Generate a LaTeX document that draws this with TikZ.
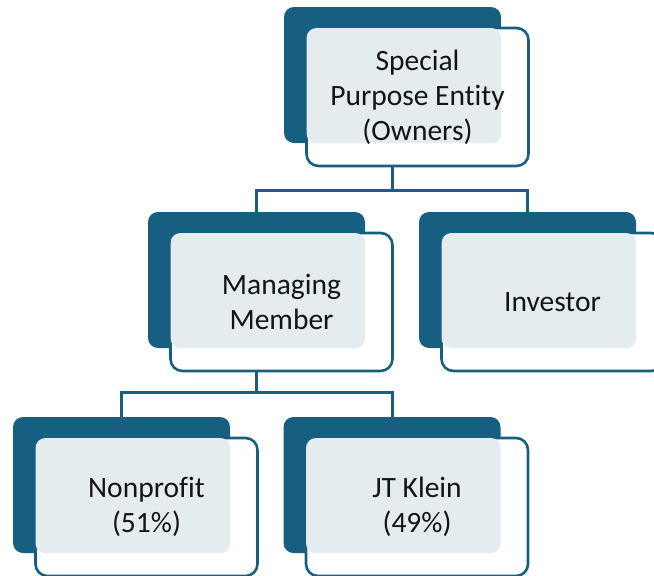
\documentclass[tikz,border=0pt]{standalone}
\usepackage{fontspec}
\setmainfont{Carlito}[Ligatures=NoCommon]
\usetikzlibrary{positioning}
\definecolor{orgteal}{RGB}{23,95,128}
\definecolor{orgpale}{RGB}{229,236,240}

\begin{document}
\begin{tikzpicture} [x=1pt, y=-1pt, node distance=271pt,
  back/.style={rectangle, fill=orgteal, rounded corners=10pt, minimum width=217pt, minimum height=136pt, inner sep=0pt},
  frame/.style={rectangle, draw=orgteal, line width=2.6pt, fill=white, rounded corners=12pt, minimum width=222pt, minimum height=138pt, inner sep=0pt},
  label/.style={align=center, text=black!92, font=\fontsize{29.5}{35}\selectfont},
  link/.style={draw=orgteal, line width=3pt}]
  \useasboundingbox (0,0) rectangle (654,576);
  %% back plates
  \node [back] (top-d) at (392.5,75) {};
  \node [back] (mm-d) at (256.5,280) {};
  \node [back, right of=mm-d] (inv-d) {};
  \node [back] (np-d) at (121.5,485) {};
  \node [back, right of=np-d, node distance=270.5pt] (jt-d) {};
  % frames, pale boxes and texts
  \foreach \n/\txt in {top/{Special\\Purpose Entity\\(Owners)}, mm/{Managing\\Member}, inv/Investor, np/{Nonprofit\\(51\%)}, jt/{JT Klein\\(49\%)}} {
    \node [frame] (\n-f) at ([shift={(25,22)}]\n-d.center) {};
    \fill [orgpale, rounded corners=10pt] ([shift={(1.3,1.3)}]\n-f.north west) rectangle (\n-d.south east);
    \node [label] (\n) at (\n-f.center) {\txt};
  }
  % Draw edges
  \draw [link] (top-d.south |- top-f.south) -- ++(0,23) coordinate (top-j) -| (mm-d.north);
  \draw [link] (top-j) -| (inv-d.north);
  \draw [link] (mm-d.south |- mm-f.south) -- ++(0,20) coordinate (mm-j) -| (np-d.north);
  \draw [link] (mm-j) -| (jt-d.north);
\end{tikzpicture}
\end{document}
